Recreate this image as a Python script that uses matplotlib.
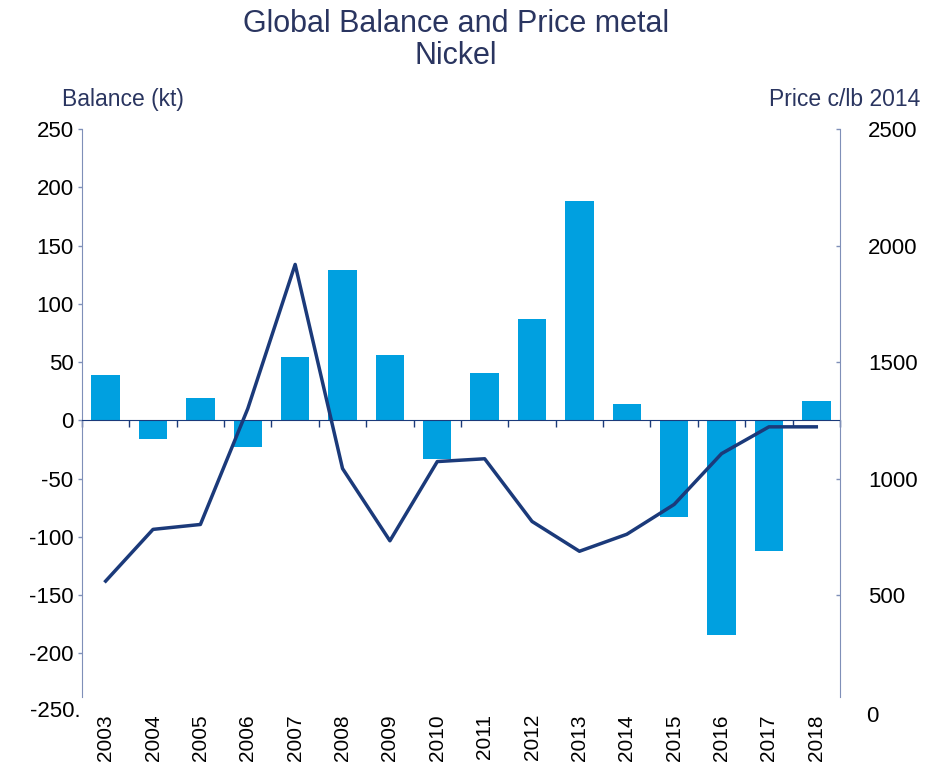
import matplotlib.pyplot as plt
import matplotlib.transforms as mtransforms
import numpy as np

plt.rcParams['font.family'] = ['Liberation Sans', 'DejaVu Sans']
plt.rcParams['axes.unicode_minus'] = False

years = ['2003', '2004', '2005', '2006', '2007', '2008', '2009', '2010',
         '2011', '2012', '2013', '2014', '2015', '2016', '2017', '2018']
balance = [39, -16, 19, -23, 54, 129, 56, -33, 41, 87, 188, 14, -83, -184, -112, 17]
price = [560, 782, 803, 1300, 1919, 1043, 733, 1073, 1085, 816, 688, 761, 889, 1107, 1222, 1222]

bar_color = '#00A0E0'
line_color = '#1B3A7A'
spine_color = '#7F8FB8'
text_color = '#2A3560'

fig = plt.figure(figsize=(9.25, 7.68), dpi=100)
ax = fig.add_axes([0.0886, 0.0924, 0.8195, 0.7396])
x = np.arange(len(years))

ax.bar(x, balance, width=0.6, color=bar_color, zorder=2)
ax.set_xlim(-0.5, len(years) - 0.5)
ax.set_ylim(-237.5, 250)
ax.set_yticks([-200, -150, -100, -50, 0, 50, 100, 150, 200, 250])
ax.tick_params(axis='y', direction='out', length=3, width=1, color=spine_color,
               labelsize=16, pad=3)

# x axis sits on zero, ticks between categories
ax.spines['bottom'].set_position(('data', 0))
ax.spines['bottom'].set_color(line_color)
ax.spines['bottom'].set_zorder(3)
ax.set_xticks(np.arange(len(years) + 1) - 0.5)
ax.set_xticklabels([])
ax.tick_params(axis='x', direction='out', length=5, width=1, color=line_color)
ax.spines['top'].set_visible(False)
ax.spines['right'].set_visible(False)
ax.spines['left'].set_color(spine_color)

trans = mtransforms.blended_transform_factory(ax.transData, ax.transAxes)
for i, yr in enumerate(years):
    ax.text(i, -0.03, yr, transform=trans, rotation=90, ha='center', va='top',
            fontsize=15)
ax.text(-0.002, -250, '-250.', transform=mtransforms.blended_transform_factory(ax.transAxes, ax.transData),
        ha='right', va='center', fontsize=16, clip_on=False)

ax2 = ax.twinx()
ax2.plot(x, price, color=line_color, lw=2.5, zorder=4)
ax2.set_ylim(62.5, 2500)
ax2.set_yticks([500, 1000, 1500, 2000, 2500])
ax2.tick_params(axis='y', direction='in', length=3, width=1, color=spine_color,
                labelsize=16, pad=20)
for s in ['top', 'left', 'bottom']:
    ax2.spines[s].set_visible(False)
ax2.spines['right'].set_color(spine_color)
ax2.text(1.035, -20, '0', transform=mtransforms.blended_transform_factory(ax2.transAxes, ax2.transData),
         ha='left', va='center', fontsize=16, clip_on=False)

fig.text(0.493, 0.948, 'Global Balance and Price metal\nNickel', ha='center', va='center',
         fontsize=22, color=text_color, linespacing=1.05)
fig.text(0.067, 0.87, 'Balance (kt)', ha='left', va='center', fontsize=16.5, color=text_color)
fig.text(0.995, 0.87, 'Price c/lb 2014', ha='right', va='center', fontsize=16.5, color=text_color)

fig.savefig('out.png', dpi=100)
